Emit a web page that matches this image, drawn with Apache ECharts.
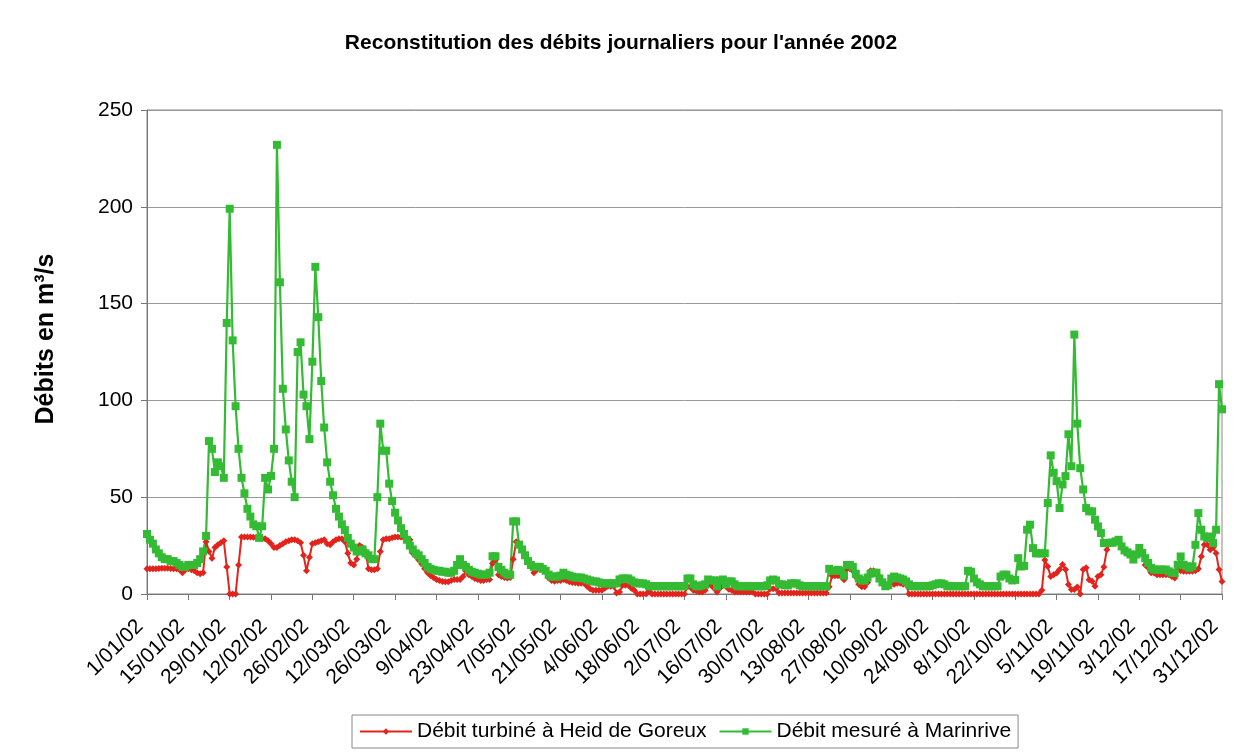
<!DOCTYPE html>
<html>
<head>
<meta charset="utf-8">
<style>
  html, body { margin: 0; padding: 0; background: #fff; }
  #chart { width: 1242px; height: 753px; }
</style>
<script src="https://cdn.jsdelivr.net/npm/echarts@6/dist/echarts.min.js"></script>
</head>
<body>
<div id="chart"></div>
<script>
// one label every 14 days
const tickLabels = [
  '1/01/02', '15/01/02', '29/01/02', '12/02/02', '26/02/02', '12/03/02', '26/03/02',
  '9/04/02', '23/04/02', '7/05/02', '21/05/02', '4/06/02', '18/06/02', '2/07/02',
  '16/07/02', '30/07/02', '13/08/02', '27/08/02', '10/09/02', '24/09/02', '8/10/02',
  '22/10/02', '5/11/02', '19/11/02', '3/12/02', '17/12/02', '31/12/02'
];

// Débit turbiné à Heid de Goreux (m3/s), one value per day, 14 per row
const turbine = [
  13, 13, 13, 13, 13.2, 13.3, 13.3, 13.3, 13.2, 13, 13, 12.5, 11, 12.5,
  13, 12.5, 12, 11, 10.5, 11, 27, 22, 18.5, 24, 25.5, 26.5, 27.5, 14,
  0, 0, 0, 15, 29.5, 29.5, 29.5, 29.5, 29.3, 29, 29, 28.5, 28.5, 27.5,
  26, 24, 24, 25, 26, 27, 27.5, 28, 28, 27.5, 26.5, 20, 12, 19,
  26, 26.5, 27, 27.5, 28, 26, 25.5, 27, 28, 28.5, 28.5, 27, 21, 16,
  15, 18, 25, 24, 22, 13, 12.5, 12.5, 13, 22, 28, 28.5, 28.5, 29,
  29.5, 29.5, 29.5, 29, 29, 28, 21, 19.5, 17.5, 15.5, 13, 11, 9.5, 8.5,
  7.5, 7, 6.5, 6.3, 6.3, 7, 7.5, 7.5, 7.5, 9, 11.7, 10, 9, 8,
  7.5, 7, 7, 7.5, 7.5, 15.7, 17.5, 10, 9, 8.5, 8.2, 8.5, 18, 27,
  26, 22.8, 20.3, 17, 15, 11, 12.5, 13, 13.3, 11.7, 8.2, 7, 6.6, 7,
  7, 7.5, 7, 6.3, 6, 5.8, 5.5, 5.5, 5.5, 4, 2.7, 2, 1.9, 1.9,
  1.9, 3, 4, 4, 4, 0.5, 1, 4.5, 4.5, 4.5, 3, 2, 0, 0,
  0, 0, 1.5, 0, 0, 0, 0, 0, 0, 0, 0, 0, 0, 0,
  0, 3.8, 3.5, 1.9, 1.5, 1, 1, 2, 4.5, 4.5, 3, 1, 3, 4.5,
  4, 2.5, 2, 1, 1, 1, 1, 1, 1, 1, 0, 0, 0, 0,
  0, 2.7, 2.7, 2.7, 0.5, 0.5, 0.5, 0.5, 0.5, 0.5, 0.5, 0.5, 0.5, 0.5,
  0.5, 0.5, 0.5, 0.5, 0.5, 0.5, 0.5, 3.8, 9.4, 9.4, 9.4, 9, 7.3, 13,
  13, 12, 8.8, 5, 3.8, 3.8, 6, 12, 12, 10.4, 9, 6, 4, 3.8,
  5, 5, 5.5, 5.5, 5, 5, 0, 0, 0, 0, 0, 0, 0, 0,
  0, 0, 0, 0, 0, 0, 0, 0, 0, 0, 0, 0, 0, 0,
  0, 0, 0, 0, 0, 0, 0, 0, 0, 0, 0, 0, 0, 0,
  0, 0, 0, 0, 0, 0, 0, 0, 0, 2, 17.6, 14.2, 9, 10,
  10.9, 12.6, 15.2, 12.6, 4.9, 2.3, 2.3, 3.6, 0, 12.6, 13.5, 7.4, 6.6, 4,
  9, 10, 14, 22.8, 26.3, 26.3, 27, 27.5, 24.5, 22, 21, 20, 17.8, 20,
  23.5, 20.5, 15, 13.5, 11, 10.8, 10, 10, 10, 10, 10, 9, 8.2, 12.6,
  12, 11.7, 11.7, 11.7, 11.7, 12, 13, 19.4, 25.4, 25.4, 22.8, 24, 21, 12.6,
  6.4
];

// Débit mesuré à Marinrive (m3/s)
const marinrive = [
  31, 28, 26, 23, 21, 19, 18, 18, 17, 17, 16, 15, 14, 14,
  15, 15, 15, 16, 18, 22, 30, 79, 75, 63, 68, 66, 60, 140,
  199, 131, 97, 75, 60, 52, 44, 40, 36, 35, 29, 35, 60, 54,
  61, 75, 232, 161, 106, 85, 69, 58, 50, 125, 130, 103, 97, 80,
  120, 169, 143, 110, 86, 68, 58, 51, 44, 40, 36, 33, 29, 26,
  24, 22, 22, 23, 21, 20, 18, 18, 50, 88, 74, 74, 57, 48,
  42, 38, 34, 31, 28, 25, 23, 21, 20, 18, 16, 14, 13, 12.5,
  12, 12, 11.5, 11.5, 11, 11, 12, 15, 18, 15, 14, 12.5, 11.5, 11,
  10.5, 10, 10, 10, 11, 19.5, 19.5, 14, 12.5, 11, 10, 10, 37.5, 37.5,
  25.5, 23, 20, 17, 15, 14, 14, 14, 13, 12, 10, 9, 9, 9,
  9.5, 11, 10, 9.5, 9, 8.5, 8.5, 8.5, 8, 7.5, 7, 6.5, 6.5, 6,
  5.5, 5.5, 5.5, 5.5, 5.5, 5.5, 7.5, 8, 8, 8, 7, 6, 5.5, 5.5,
  5.5, 5, 4, 4, 4, 4, 4, 4, 4, 4, 4, 4, 4, 4,
  4, 8, 8, 5, 4, 4, 4.5, 5, 7.5, 7, 7, 4, 7, 7.5,
  5, 6.5, 6.5, 5, 4, 4, 4, 4, 4, 4, 4, 4, 4, 4,
  4.5, 7, 7.5, 7, 5, 5, 4.5, 4.5, 5.5, 5.5, 5.5, 4.5, 4, 4,
  4, 4, 4, 4, 4, 4, 4, 13, 12, 12, 12.5, 12, 9.5, 15,
  15, 14, 10.5, 8, 7, 7, 8.5, 10.5, 11, 11, 8, 6, 4, 4.5,
  8, 9, 8.5, 8, 7.5, 6.5, 5, 4, 4, 4, 4, 4, 4, 4,
  4.5, 5, 5.5, 5.5, 5, 4, 4, 4, 4, 4, 4, 4, 12, 11.5,
  8, 6, 5, 4, 4, 4, 4, 4, 4, 9, 10, 10, 8, 7,
  7.3, 18.5, 14.2, 14.5, 33.2, 35.8, 23.7, 21, 21, 21, 21, 47, 71.6, 62.6,
  58.3, 44.4, 56.6, 60.9, 82.5, 66, 134, 88, 65, 54, 44.4, 42.7, 42.7, 38.4,
  34.9, 31.5, 26.3, 26.3, 26.5, 26.5, 27.2, 28, 24.6, 22.5, 21.5, 20.4, 17.8, 20.4,
  23.8, 21.2, 18.5, 16, 13.5, 12.6, 12.6, 12.6, 12.6, 12.6, 11.7, 11, 10.8, 15.1,
  19.4, 15.1, 14.3, 13.5, 14.3, 25.4, 41.8, 33.2, 29.7, 28.8, 29.7, 26.3, 33.2, 108.4,
  95.4
];

const chart = echarts.init(document.getElementById('chart'));
const toPoints = arr => arr.map((v, i) => [i, v]);
const font = 'Liberation Sans, Arial, sans-serif';

chart.setOption({
  animation: false,
  backgroundColor: '#fff',
  textStyle: { fontFamily: font },
  title: {
    text: "Reconstitution des débits journaliers pour l'année 2002",
    left: 'center',
    top: 28,
    textStyle: { fontSize: 21, fontWeight: 'bold', color: '#000', fontFamily: font },
  },
  grid: {
    left: 147,
    right: 20,
    top: 110,
    bottom: 159,
    show: true,
    borderColor: '#888',
    borderWidth: 1,
  },
  legend: {
    bottom: 5,
    left: 352,
    itemWidth: 52,
    itemHeight: 8,
    itemGap: 12,
    padding: [6, 7],
    borderColor: '#888',
    borderWidth: 1,
    textStyle: { fontSize: 21, color: '#000', fontFamily: font },
    data: ['Débit turbiné à Heid de Goreux', 'Débit mesuré à Marinrive'],
  },
  xAxis: {
    type: 'value',
    min: 0,
    max: 364,
    interval: 14,
    axisLine: { show: true, lineStyle: { color: '#777' } },
    axisTick: { show: true, length: 6, lineStyle: { color: '#777' } },
    splitLine: { show: false },
    axisLabel: {
      rotate: 45,
      margin: 22,
      padding: [0, 10, 0, 0],
      fontSize: 21,
      color: '#000',
      fontFamily: font,
      formatter: v => tickLabels[Math.round(v / 14)],
    },
  },
  yAxis: {
    type: 'value',
    min: 0,
    max: 250,
    interval: 50,
    name: 'Débits en m³/s',
    nameLocation: 'middle',
    nameRotate: 90,
    nameGap: 88,
    nameTextStyle: {
      fontSize: 25,
      fontWeight: 'bold',
      color: '#000',
      fontFamily: font,
      padding: [0, 0, 0, 26],
    },
    axisLine: { show: true, lineStyle: { color: '#777' } },
    axisTick: { show: true, length: 6, lineStyle: { color: '#777' } },
    splitLine: { show: true, lineStyle: { color: '#999', width: 1 } },
    axisLabel: { fontSize: 21, color: '#000', margin: 14, fontFamily: font },
  },
  series: [
    {
      name: 'Débit turbiné à Heid de Goreux',
      type: 'line',
      data: toPoints(turbine),
      color: '#e3241c',
      symbol: 'diamond',
      symbolSize: 7,
      showAllSymbol: true,
      lineStyle: { width: 2 },
    },
    {
      name: 'Débit mesuré à Marinrive',
      type: 'line',
      data: toPoints(marinrive),
      color: '#33bb33',
      symbol: 'rect',
      symbolSize: 8,
      showAllSymbol: true,
      lineStyle: { width: 2.2 },
    },
  ],
});
</script>
</body>
</html>
